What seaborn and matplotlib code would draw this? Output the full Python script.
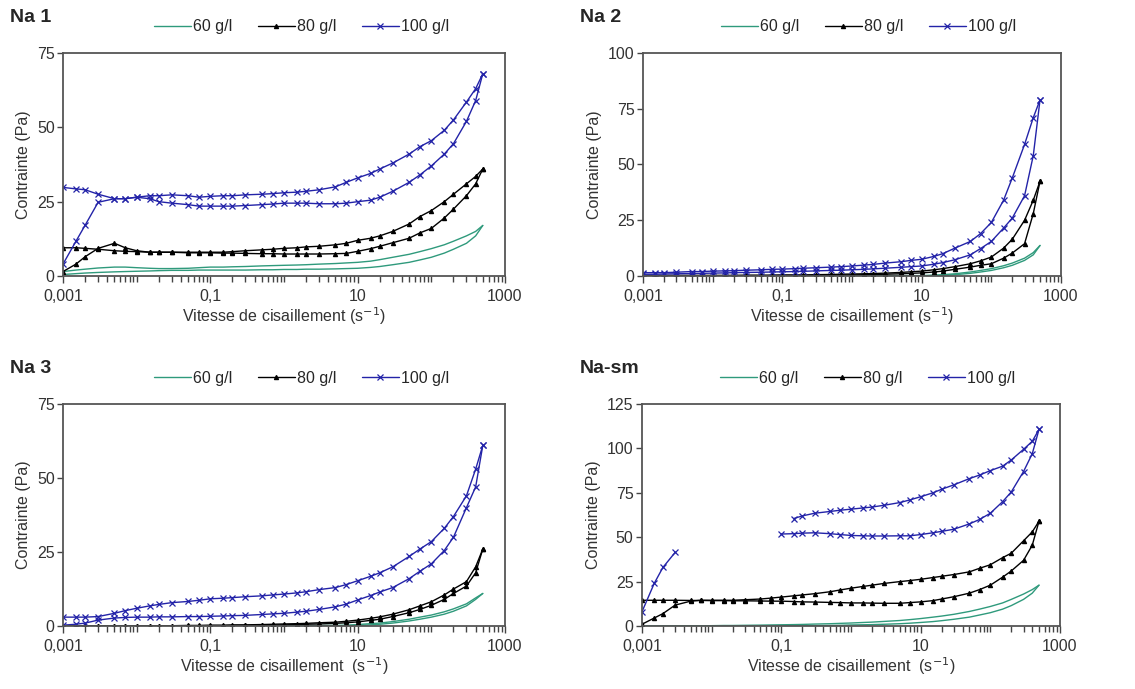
import numpy as np
import matplotlib
matplotlib.use("Agg")
import matplotlib.pyplot as plt
from matplotlib.lines import Line2D
from matplotlib.ticker import LogLocator, NullFormatter
import seaborn as sns

# shear rate grid (s-1), shared by every branch
shear_rate = [0.001, 0.0015, 0.002, 0.003, 0.005, 0.007,
              0.01, 0.015, 0.02, 0.03, 0.05, 0.07,
              0.1, 0.15, 0.2, 0.3, 0.5, 0.7,
              1, 1.5, 2, 3, 5, 7,
              10, 15, 20, 30, 50, 70,
              100, 150, 200, 300, 400, 500]

# ---- Na 1 ----
na1_60_up = [1.5, 2.0, 2.3, 2.7, 3.0, 3.0, 2.8, 2.6, 2.5, 2.5, 2.6, 2.8,
             3.0, 3.0, 3.1, 3.2, 3.4, 3.5, 3.6, 3.7, 3.8, 4.0, 4.2, 4.4,
             4.6, 5.0, 5.5, 6.3, 7.3, 8.2, 9.2, 10.5, 11.7, 13.5, 15.0, 17.0]
na1_60_down = [0.5, 0.8, 1.0, 1.2, 1.4, 1.5, 1.6, 1.7, 1.8, 1.9, 1.9, 2.0,
               2.0, 2.0, 2.0, 2.0, 2.1, 2.1, 2.2, 2.2, 2.3, 2.3, 2.4, 2.5,
               2.6, 2.9, 3.2, 3.8, 4.6, 5.4, 6.3, 7.7, 9.0, 11.0, 13.5, 17.0]
na1_80_up = [1.5, 4.0, 6.5, 9.3, 11.0, 9.5, 8.5, 8.0, 8.0, 8.0, 8.0, 8.0,
             8.0, 8.0, 8.2, 8.5, 8.8, 9.0, 9.3, 9.5, 9.8, 10.0, 10.5, 11.0,
             12.0, 12.7, 13.5, 15.0, 17.5, 20.0, 22.0, 25.0, 27.5, 31.0, 33.5, 36.0]
na1_80_down = [9.5, 9.5, 9.3, 9.0, 8.5, 8.3, 8.2, 8.0, 8.0, 8.0, 7.8, 7.8,
               7.8, 7.7, 7.7, 7.6, 7.5, 7.5, 7.4, 7.4, 7.4, 7.4, 7.5, 7.6,
               8.3, 9.2, 10.0, 11.2, 12.7, 14.5, 16.0, 19.5, 22.5, 27.0, 31.0, 36.0]
na1_100_up = [4.0, 11.7, 17.1, 24.8, 26.0, 26.0, 26.5, 27.0, 27.0, 27.3, 27.0, 26.5,
              26.8, 27.0, 27.0, 27.3, 27.5, 27.7, 28.0, 28.2, 28.5, 29.0, 30.0, 31.5,
              33.0, 34.5, 36.0, 38.0, 41.0, 43.5, 45.5, 49.0, 52.5, 58.5, 63.0, 68.0]
na1_100_down = [29.8, 29.3, 29.0, 27.5, 26.0, 26.0, 26.5, 26.0, 25.0, 24.5, 24.0, 23.5,
                23.5, 23.5, 23.5, 23.7, 24.0, 24.2, 24.5, 24.5, 24.5, 24.3, 24.3, 24.5,
                25.0, 25.5, 26.5, 28.5, 31.5, 34.0, 37.0, 41.0, 44.5, 52.0, 59.0, 68.0]

# ---- Na 2 ----
na2_60_up = [0.1, 0.1, 0.1, 0.1, 0.1, 0.1, 0.1, 0.1, 0.1, 0.1, 0.1, 0.1,
             0.1, 0.1, 0.1, 0.1, 0.1, 0.1, 0.1, 0.1, 0.1, 0.1, 0.2, 0.2,
             0.2, 0.4, 0.6, 1.0, 1.8, 2.5, 3.3, 4.6, 5.8, 8.0, 10.5, 13.7]
na2_60_down = [0.0, 0.0, 0.0, 0.0, 0.0, 0.0, 0.0, 0.0, 0.0, 0.0, 0.0, 0.0,
               0.0, 0.0, 0.0, 0.0, 0.0, 0.0, 0.0, 0.0, 0.0, 0.0, 0.0, 0.0,
               0.1, 0.2, 0.3, 0.6, 1.2, 1.8, 2.5, 3.7, 4.8, 7.0, 9.5, 13.7]
na2_80_up = [0.3, 0.3, 0.3, 0.3, 0.3, 0.3, 0.3, 0.3, 0.3, 0.4, 0.4, 0.4,
             0.5, 0.5, 0.5, 0.6, 0.7, 0.8, 0.9, 1.0, 1.1, 1.3, 1.6, 1.9,
             2.2, 2.8, 3.3, 4.2, 5.5, 6.8, 8.5, 12.5, 16.5, 25.0, 34.0, 42.5]
na2_80_down = [0.0, 0.0, 0.0, 0.0, 0.0, 0.0, 0.1, 0.1, 0.1, 0.1, 0.1, 0.2,
               0.2, 0.2, 0.2, 0.3, 0.3, 0.4, 0.5, 0.6, 0.7, 0.8, 1.0, 1.2,
               1.4, 1.8, 2.2, 3.0, 4.0, 4.8, 5.5, 8.0, 10.3, 14.5, 28.0, 42.5]
na2_100_up = [1.5, 1.5, 1.5, 1.7, 2.0, 2.0, 2.2, 2.3, 2.4, 2.6, 2.8, 3.0,
              3.1, 3.3, 3.5, 3.7, 4.0, 4.2, 4.5, 4.9, 5.2, 5.8, 6.4, 7.0,
              7.5, 8.8, 10.0, 12.5, 15.5, 19.0, 24.0, 34.0, 44.0, 59.0, 71.0, 79.0]
na2_100_down = [0.8, 0.8, 0.9, 1.0, 1.1, 1.2, 1.3, 1.4, 1.5, 1.6, 1.7, 1.8,
                1.9, 2.0, 2.1, 2.3, 2.5, 2.6, 2.8, 3.0, 3.2, 3.5, 3.9, 4.2,
                4.5, 5.3, 6.0, 7.3, 9.5, 12.3, 15.5, 21.5, 26.0, 36.0, 54.0, 79.0]

# ---- Na 3 ----
na3_60_up = [0.0, 0.0, 0.0, 0.0, 0.0, 0.0, 0.0, 0.0, 0.0, 0.0, 0.0, 0.0,
             0.0, 0.0, 0.0, 0.0, 0.0, 0.0, 0.1, 0.1, 0.1, 0.2, 0.2, 0.3,
             0.5, 0.8, 1.0, 1.5, 2.3, 3.0, 3.7, 4.8, 5.8, 7.5, 9.5, 11.0]
na3_60_down = [0.0, 0.0, 0.0, 0.0, 0.0, 0.0, 0.0, 0.0, 0.0, 0.0, 0.0, 0.0,
               0.0, 0.0, 0.0, 0.0, 0.0, 0.0, 0.0, 0.0, 0.0, 0.0, 0.0, 0.0,
               0.2, 0.4, 0.6, 1.0, 1.7, 2.3, 3.0, 4.0, 5.0, 6.8, 9.0, 11.0]
na3_80_up = [0.0, 0.0, 0.0, 0.0, 0.0, 0.0, 0.0, 0.1, 0.1, 0.1, 0.2, 0.2,
             0.3, 0.3, 0.4, 0.4, 0.5, 0.6, 0.7, 0.8, 0.9, 1.1, 1.3, 1.6,
             2.0, 2.6, 3.1, 4.0, 5.5, 6.8, 8.2, 10.5, 12.5, 15.0, 20.0, 26.0]
na3_80_down = [0.0, 0.0, 0.0, 0.0, 0.0, 0.0, 0.0, 0.0, 0.0, 0.0, 0.0, 0.0,
               0.1, 0.1, 0.1, 0.2, 0.2, 0.3, 0.4, 0.5, 0.6, 0.7, 0.9, 1.1,
               1.4, 1.9, 2.3, 3.2, 4.5, 5.6, 7.0, 9.0, 11.0, 13.5, 18.0, 26.0]
na3_100_up = [3.0, 3.0, 3.0, 3.2, 4.3, 5.2, 6.0, 6.8, 7.3, 7.9, 8.3, 8.7,
              9.2, 9.4, 9.6, 9.9, 10.2, 10.5, 10.8, 11.2, 11.6, 12.3, 13.0, 14.0,
              15.3, 16.8, 18.0, 20.0, 23.5, 26.0, 28.5, 33.0, 37.0, 44.0, 53.0, 61.0]
na3_100_down = [0.3, 0.6, 1.0, 2.0, 2.7, 2.9, 3.0, 3.0, 3.1, 3.1, 3.2, 3.2,
                3.3, 3.4, 3.5, 3.6, 3.9, 4.1, 4.3, 4.7, 5.0, 5.6, 6.5, 7.4,
                8.8, 10.3, 11.5, 13.0, 16.0, 18.5, 21.0, 25.5, 30.0, 40.0, 47.0, 61.0]

# ---- Na-sm ----
nasm_60_up = [0.0, 0.0, 0.0, 0.0, 0.1, 0.1, 0.2, 0.3, 0.3, 0.4, 0.5, 0.6,
              0.7, 0.8, 0.9, 1.1, 1.3, 1.5, 1.7, 2.0, 2.2, 2.6, 3.1, 3.6,
              4.2, 5.0, 5.6, 6.6, 8.2, 9.5, 11.0, 13.0, 15.0, 18.0, 20.5, 23.0]
nasm_60_down = [0.0, 0.0, 0.0, 0.0, 0.0, 0.0, 0.0, 0.0, 0.0, 0.0, 0.0, 0.0,
                0.1, 0.1, 0.1, 0.2, 0.3, 0.4, 0.6, 0.7, 0.8, 1.0, 1.3, 1.6,
                2.0, 2.5, 3.0, 3.8, 5.0, 6.2, 7.5, 9.5, 11.5, 15.0, 18.5, 23.0]
nasm_80_up = [1.0, 4.5, 7.0, 11.8, 14.0, 14.5, 14.5, 14.5, 14.5, 14.8, 15.2, 15.7,
              16.3, 17.0, 17.5, 18.2, 19.3, 20.3, 21.3, 22.3, 23.0, 24.0, 25.0, 25.6,
              26.3, 27.3, 28.0, 29.0, 30.5, 32.5, 34.5, 38.5, 41.0, 48.0, 53.0, 59.0]
nasm_80_down = [14.5, 14.5, 14.5, 14.5, 14.4, 14.4, 14.3, 14.3, 14.2, 14.2, 14.1, 14.0,
                14.0, 13.8, 13.6, 13.5, 13.3, 13.2, 13.0, 13.0, 12.9, 12.8, 12.8, 13.2,
                13.6, 14.3, 15.2, 16.5, 18.5, 20.5, 23.0, 27.5, 31.0, 37.0, 45.5, 59.0]
nasm_100_up = [8.0, 24.0, 33.0, 41.5, None, None, None, None, None, None, None, None,
               None, 60.5, 62.0, 63.5, 64.5, 65.2, 65.8, 66.5, 67.0, 68.0, 69.5, 71.0,
               72.8, 75.0, 77.0, 79.5, 83.0, 85.0, 87.5, 90.0, 93.5, 99.5, 104.0, 110.7]
nasm_100_down = [None, None, None, None, None, None, None, None, None, None, None, None,
                 51.8, 52.0, 52.3, 52.5, 52.0, 51.5, 51.0, 50.8, 50.7, 50.7, 50.8, 50.8,
                 51.5, 52.5, 53.3, 54.5, 57.5, 60.0, 63.5, 70.0, 75.5, 87.0, 97.0, 110.7]

titles = ["Na 1", "Na 2", "Na 3", "Na-sm"]
y_max = [75, 100, 75, 125]
labels = ["60 g/l", "80 g/l", "100 g/l"]
colors = ["#2f9a7c", "#000000", "#2323a8"]
markers = [None, "^", "x"]
msizes = [0, 3, 5]

panels = [
    [(na1_60_up, na1_60_down), (na1_80_up, na1_80_down), (na1_100_up, na1_100_down)],
    [(na2_60_up, na2_60_down), (na2_80_up, na2_80_down), (na2_100_up, na2_100_down)],
    [(na3_60_up, na3_60_down), (na3_80_up, na3_80_down), (na3_100_up, na3_100_down)],
    [(nasm_60_up, nasm_60_down), (nasm_80_up, nasm_80_down), (nasm_100_up, nasm_100_down)],
]

sns.set_style("ticks")
plt.rcParams["font.family"] = ["Liberation Sans Narrow", "Liberation Sans", "DejaVu Sans"]

fig = plt.figure(figsize=(11.35, 6.89), dpi=100)
positions = [
    [0.0555, 0.5994, 0.3894, 0.3237],
    [0.5665, 0.5994, 0.3683, 0.3237],
    [0.0555, 0.0914, 0.3894, 0.3222],
    [0.5656, 0.0914, 0.3683, 0.3222],
]
x = np.array(shear_rate)


def draw_branch(ax, values, color, marker, ms):
    y = np.array(values, dtype=float)
    idx = np.flatnonzero(~np.isnan(y))
    runs = np.split(idx, np.where(np.diff(idx) > 1)[0] + 1)
    for r in runs:
        sns.lineplot(x=x[r], y=y[r], ax=ax, color=color, linewidth=1.0,
                     marker=marker, markersize=ms, markeredgecolor=color,
                     markeredgewidth=0.9, estimator=None, sort=False, legend=False)


for k, pos in enumerate(positions):
    ax = fig.add_axes(pos)
    for (up, down), col, mk, ms in zip(panels[k], colors, markers, msizes):
        draw_branch(ax, up, col, mk, ms)
        draw_branch(ax, down, col, mk, ms)

    ax.set_xscale("log")
    ax.set_xlim(0.001, 1000)
    ax.set_ylim(0, y_max[k])
    ax.set_xticks([0.001, 0.1, 10, 1000])
    ax.set_xticklabels(["0,001", "0,1", "10", "1000"])
    ax.xaxis.set_minor_locator(LogLocator(base=10, subs=np.arange(1, 10), numticks=30))
    ax.xaxis.set_minor_formatter(NullFormatter())
    ax.set_yticks(np.arange(0, y_max[k] + 1, 25))
    ax.tick_params(axis="both", which="both", direction="out", colors="#444444",
                   labelcolor="#333333", labelsize=11.5, width=1.0,
                   bottom=True, left=True, top=False, right=False)
    ax.tick_params(axis="x", which="major", length=5, pad=4)
    ax.tick_params(axis="x", which="minor", length=4)
    ax.tick_params(axis="y", length=4, pad=2)
    for s in ax.spines.values():
        s.set_visible(True)
        s.set_color("#555555")
        s.set_linewidth(1.3)

    xlab = "Vitesse de cisaillement (s$^{-1}$)" if k < 2 else "Vitesse de cisaillement  (s$^{-1}$)"
    ax.set_xlabel(xlab, fontsize=11.5, color="#333333", labelpad=1)
    ax.set_ylabel("Contrainte (Pa)", fontsize=11.5, color="#333333", labelpad=4)

    ax.text(-0.12 if k % 2 == 0 else -0.15, 1.16, titles[k], transform=ax.transAxes,
            fontsize=14, fontweight="bold", ha="left", va="center")

    handles = [Line2D([], [], color=c, marker=m, markersize=s, markeredgecolor=c,
                      markeredgewidth=0.9, linewidth=1.0)
               for c, m, s in zip(colors, markers, msizes)]
    ax.legend(handles, labels, loc="center", bbox_to_anchor=(0.54, 1.117), ncol=3,
              frameon=False, handlelength=2.3, handletextpad=0.15, columnspacing=1.6,
              fontsize=11.5, borderaxespad=0)

fig.savefig("out.png", dpi=100)
